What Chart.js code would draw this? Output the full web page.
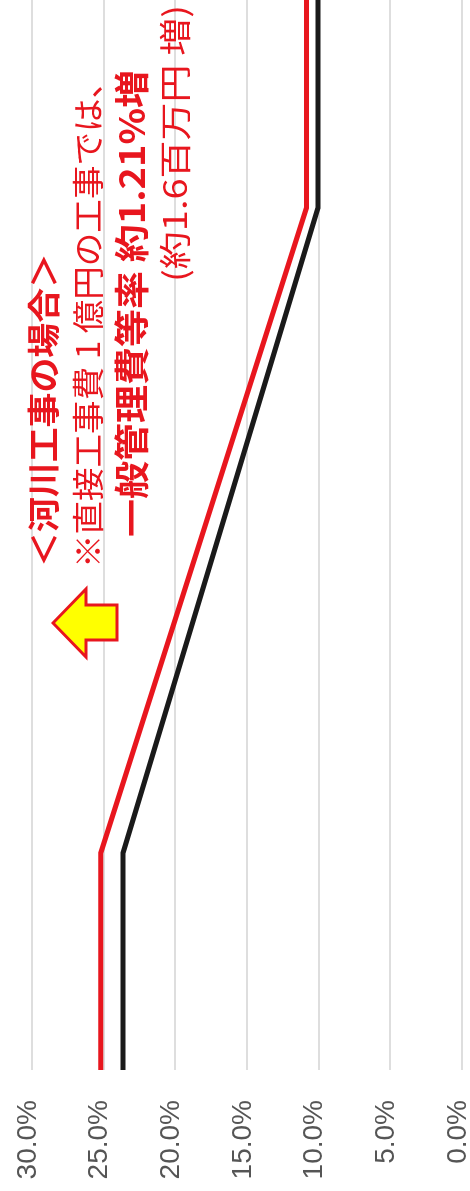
<!DOCTYPE html>
<html lang="ja">

<head>
    <meta charset="UTF-8">
    <title>一般管理費等率</title>
    <script src="https://cdn.jsdelivr.net/npm/chart.js"></script>
    <style>
        html, body { margin: 0; padding: 0; background: #fff; overflow: hidden; width: 470px; height: 1191px; }
        /* the chart is drawn landscape and turned a quarter left */
        #wrap { position: absolute; left: 0; top: 0; width: 1191px; height: 470px;
                transform-origin: 0 0; transform: translateY(1191px) rotate(-90deg); }
    </style>
</head>

<body>
    <div id="wrap"><canvas id="myChart" width="1191" height="470"></canvas></div>
    <script>
        // 直接工事費 (百万円, log scale) and rates (%)
        const costX = [0.58, 5, 3000, 23600];
        const rateNew = [25.2, 25.2, 10.85, 10.85];
        const rateOld = [23.65, 23.65, 10.05, 10.05];
        const yTicks = [0, 5, 10, 15, 20, 25, 30];

        const RED = '#e8161e';

        function fillFit(ctx, text, x, y, width, font) {
            ctx.save();
            ctx.font = font;
            const w = ctx.measureText(text).width;
            ctx.translate(x, y);
            ctx.scale(width / w, 1);
            ctx.fillText(text, 0, 0);
            ctx.restore();
        }

        const notes = {
            id: 'notes',
            afterDraw(chart) {
                const ctx = chart.ctx;
                ctx.save();
                ctx.fillStyle = RED;
                ctx.textAlign = 'left';
                ctx.textBaseline = 'middle';
                const jp = '"Noto Sans CJK JP", sans-serif';
                fillFit(ctx, '＜河川工事の場合＞', 624, 43, 314, 'bold 33px ' + jp);
                fillFit(ctx, '※直接工事費 1 億円の工事では、', 623, 88, 503, '32px ' + jp);
                fillFit(ctx, '一般管理費等率 約1.21%増', 654, 132, 467, 'bold 35px ' + jp);
                fillFit(ctx, '(約1.6百万円 増)', 909, 175, 277, '32px ' + jp);

                // arrow pointing up
                ctx.beginPath();
                ctx.moveTo(568, 53);
                ctx.lineTo(602, 86);
                ctx.lineTo(586, 86);
                ctx.lineTo(586, 117);
                ctx.lineTo(551, 117);
                ctx.lineTo(551, 86);
                ctx.lineTo(534, 86);
                ctx.closePath();
                ctx.fillStyle = '#ffff00';
                ctx.fill();
                ctx.lineWidth = 3;
                ctx.strokeStyle = RED;
                ctx.lineJoin = 'miter';
                ctx.stroke();
                ctx.restore();
            }
        };

        const ctx = document.getElementById('myChart').getContext('2d');
        const chart = new Chart(ctx, {
            type: 'line',
            data: {
                datasets: [{
                    label: '改定後',
                    data: costX.map((x, i) => ({ x: x, y: rateNew[i] })),
                    borderColor: RED,
                    borderWidth: 5,
                    pointRadius: 0,
                    tension: 0
                }, {
                    label: '改定前',
                    data: costX.map((x, i) => ({ x: x, y: rateOld[i] })),
                    borderColor: '#1a1a1a',
                    borderWidth: 5,
                    pointRadius: 0,
                    tension: 0
                }]
            },
            options: {
                responsive: false,
                animation: false,
                devicePixelRatio: 1,
                layout: { padding: { top: 32, bottom: 8, left: 0, right: 0 } },
                plugins: { legend: { display: false }, tooltip: { enabled: false } },
                scales: {
                    x: {
                        type: 'logarithmic',
                        min: costX[0],
                        max: costX[costX.length - 1],
                        display: false
                    },
                    y: {
                        min: 0,
                        max: 30,
                        afterBuildTicks: s => { s.ticks = yTicks.map(v => ({ value: v })); },
                        afterFit: s => { s.width = 121; s.paddingTop = 0; s.paddingBottom = 0; },
                        border: { display: false },
                        grid: { color: '#dedede', lineWidth: 2, drawTicks: false },
                        ticks: {
                            padding: 30,
                            labelOffset: -4,
                            color: '#555555',
                            font: { family: '"Liberation Sans", Arial, sans-serif', size: 28 },
                            callback: v => v.toFixed(1) + '%'
                        }
                    }
                }
            },
            plugins: [notes]
        });
    </script>
</body>

</html>
